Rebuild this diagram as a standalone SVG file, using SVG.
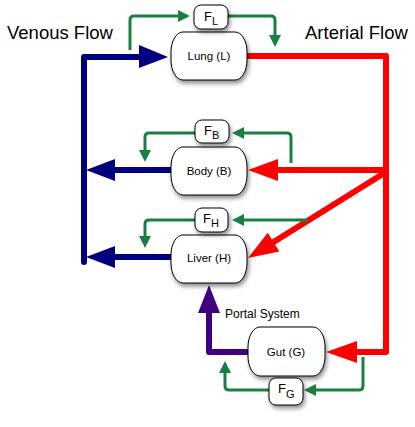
<svg xmlns="http://www.w3.org/2000/svg" width="415" height="427" viewBox="0 0 415 427">
<defs>
<filter id="sh" x="-20%" y="-20%" width="150%" height="160%">
<feDropShadow dx="1.5" dy="3" stdDeviation="2" flood-color="#000" flood-opacity="0.45"/>
</filter>
<marker id="ga" viewBox="0 0 12 12" refX="0" refY="6" markerWidth="12" markerHeight="12" markerUnits="userSpaceOnUse" orient="auto">
<path d="M0,0 L12,6 L0,12 Z" fill="#178040"/>
</marker>
</defs>
<style>
.node{fill:#fff;stroke:#000;stroke-width:1;filter:url(#sh)}
.lbl{font-family:"Liberation Sans",Arial,sans-serif;font-size:11.5px;text-anchor:middle;fill:#000}
.flx{font-family:"Liberation Sans",Arial,sans-serif;font-size:13px;fill:#000}
.title{font-family:"Liberation Sans",Arial,sans-serif;font-size:18.5px;fill:#000}
.g{fill:none;stroke:#178040;stroke-width:3;marker-end:url(#ga)}
.blue{fill:none;stroke:#00007f;stroke-width:6;stroke-linecap:round}
.red{fill:none;stroke:#ff0000;stroke-width:6;stroke-linecap:round}
.pur{fill:none;stroke:#3f007f;stroke-width:6;stroke-linecap:round}
</style>
<text class="title" x="7" y="39">Venous Flow</text>
<text class="title" x="305" y="39">Arterial Flow</text>
<text class="lbl" x="225" y="318" style="text-anchor:start;font-size:12px">Portal System</text>
<g id="connectors">
<path class="blue" d="M171,170 H114"/>
<polygon points="86,170 115,159 115,181" fill="#00007f"/>
<path class="blue" d="M171,257 H114"/>
<polygon points="86,257 115,246 115,268" fill="#00007f"/>
<path class="blue" d="M84,262 V57 H140" stroke-linejoin="round"/>
<polygon points="168,57 139,45 139,68" fill="#00007f"/>
<path class="red" d="M247,56 H386 V352 H356" stroke-linejoin="round"/>
<polygon points="326,352 357,341 357,363" fill="#ff0000"/>
<path class="red" d="M386,170 H277"/>
<polygon points="248,170 278,159 278,181" fill="#ff0000"/>
<path class="red" d="M386,172 L272,243"/>
<polygon points="248,258 279.3,251.4 267.7,232.8" fill="#ff0000"/>
<path class="pur" d="M249,352 H209 V312" stroke-linejoin="round"/>
<polygon points="209,285 198,313 220,313" fill="#3f007f"/>
<path class="g" d="M130,50 V20 Q130,16 134,16 H178"/>
<path class="g" d="M228,16 H271 Q275,16 275,20 V35"/>
<path class="g" d="M291,163 V137 Q291,133 287,133 H244"/>
<path class="g" d="M195,133 H149 Q145,133 145,137 V150"/>
<path class="g" d="M308,220 H244"/>
<path class="g" d="M195,220 H149 Q145,220 145,224 V236"/>
<path class="g" d="M363,357 V386 Q363,390 359,390 H316"/>
<path class="g" d="M269,390 H229 Q225,390 225,386 V373"/>
</g>
<g id="lung">
<rect class="node" x="171" y="32" width="76" height="48" rx="12" ry="20"/>
<text class="lbl" x="209" y="60">Lung (L)</text>
</g>
<g id="body">
<rect class="node" x="171" y="147" width="76" height="48" rx="12" ry="20"/>
<text class="lbl" x="209" y="175">Body (B)</text>
</g>
<g id="liver">
<rect class="node" x="171" y="235" width="76" height="48" rx="12" ry="20"/>
<text class="lbl" x="209" y="262">Liver (H)</text>
</g>
<g id="gut">
<rect class="node" x="248" y="327" width="77" height="49" rx="12" ry="20"/>
<text class="lbl" x="286" y="356">Gut (G)</text>
</g>
<g id="fl">
<rect class="node" x="194" y="5" width="34" height="24" rx="7"/>
<text class="flx" x="204" y="21">F<tspan font-size="11" dy="4">L</tspan></text>
</g>
<g id="fb">
<rect class="node" x="195" y="120" width="34" height="23" rx="7"/>
<text class="flx" x="204" y="135">F<tspan font-size="11" dy="4">B</tspan></text>
</g>
<g id="fh">
<rect class="node" x="195" y="208" width="33" height="24" rx="7"/>
<text class="flx" x="203" y="223">F<tspan font-size="11" dy="4">H</tspan></text>
</g>
<g id="fg">
<rect class="node" x="269" y="378" width="34" height="27" rx="7"/>
<text class="flx" x="278" y="393">F<tspan font-size="11" dy="5">G</tspan></text>
</g>
</svg>
